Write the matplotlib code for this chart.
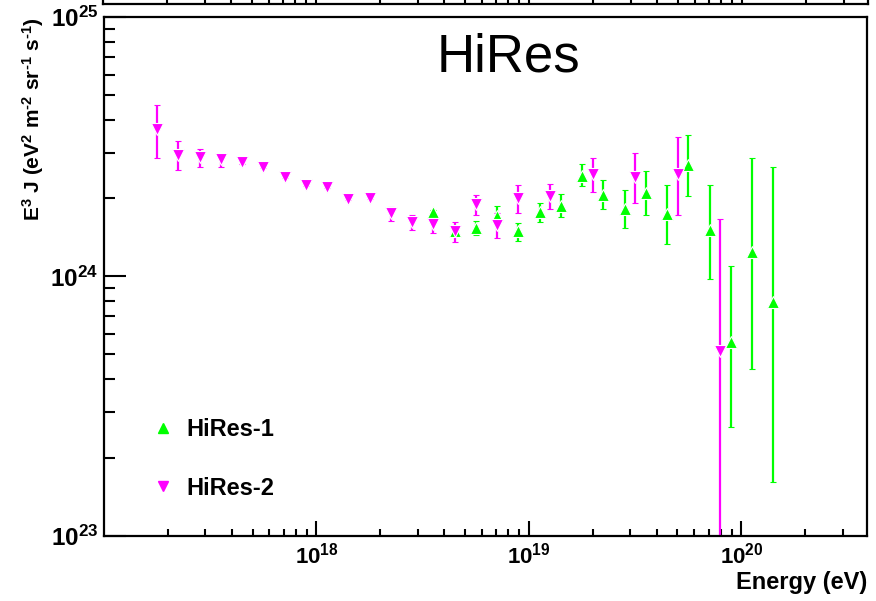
import matplotlib.pyplot as plt
from matplotlib.lines import Line2D
import numpy as np

plt.rcParams['font.family'] = 'Liberation Sans'
plt.rcParams['mathtext.fontset'] = 'custom'
plt.rcParams['mathtext.rm'] = 'Liberation Sans:bold'
plt.rcParams['mathtext.it'] = 'Liberation Sans:bold'
plt.rcParams['mathtext.bf'] = 'Liberation Sans:bold'

# HiRes-1 monocular spectrum: log10(E/eV), E^3 J in units of 1e24 eV^2 m^-2 sr^-1 s^-1
hires1_logE = [18.55, 18.65, 18.75, 18.85, 18.95, 19.05, 19.15, 19.25, 19.35,
               19.45, 19.55, 19.65, 19.75, 19.85, 19.95, 20.05, 20.15]
hires1_flux = [1.77, 1.49, 1.53, 1.71, 1.49, 1.77, 1.87, 2.44, 2.06,
               1.81, 2.10, 1.74, 2.69, 1.51, 0.560, 1.24, 0.798]
hires1_lo = [1.74, 1.43, 1.44, 1.60, 1.37, 1.62, 1.70, 2.22, 1.81,
             1.54, 1.73, 1.33, 2.04, 0.98, 0.263, 0.439, 0.1605]
hires1_hi = [1.80, 1.55, 1.63, 1.86, 1.61, 1.92, 2.07, 2.71, 2.35,
             2.15, 2.55, 2.25, 3.51, 2.24, 1.10, 2.87, 2.63]

# HiRes-2 monocular spectrum
hires2_logE = [17.25, 17.35, 17.45, 17.55, 17.65, 17.75, 17.85, 17.95, 18.05,
               18.15, 18.25, 18.35, 18.45, 18.55, 18.65, 18.75, 18.85, 18.95,
               19.1, 19.3, 19.5, 19.7, 19.9]
hires2_flux = [3.70, 2.94, 2.89, 2.83, 2.75, 2.65, 2.41, 2.24, 2.21,
               1.99, 2.01, 1.75, 1.62, 1.59, 1.50, 1.90, 1.58, 2.00,
               2.04, 2.48, 2.42, 2.49, 0.516]
hires2_lo = [2.86, 2.57, 2.65, 2.64, 2.72, 2.62, 2.39, 2.22, 2.19,
             1.97, 1.99, 1.64, 1.51, 1.47, 1.36, 1.72, 1.40, 1.75,
             1.81, 2.12, 1.92, 1.72, 0.09]
hires2_hi = [4.59, 3.32, 3.10, 2.94, 2.78, 2.68, 2.43, 2.26, 2.23,
             2.01, 2.03, 1.85, 1.72, 1.70, 1.62, 2.06, 1.76, 2.25,
             2.27, 2.85, 3.00, 3.45, 1.67]

GREEN = '#00ff00'
MAGENTA = '#ff00ff'
XMIN, XMAX = 1e17, 3.9e20

W, H = 876, 601
fig = plt.figure(figsize=(W / 100, H / 100), dpi=100, facecolor='white')


def style_xaxis(ax):
    ax.set_xscale('log')
    ax.set_xlim(XMIN, XMAX)
    ax.set_xticks([1e18, 1e19, 1e20])
    ax.set_xticklabels([r'$10^{18}$', r'$10^{19}$', r'$10^{20}$'])
    ax.xaxis.set_minor_locator(plt.LogLocator(base=10, subs=np.arange(2, 10)))
    ax.xaxis.set_minor_formatter(plt.NullFormatter())
    ax.tick_params(axis='x', which='both', direction='in', top=False, width=1.5,
                   labelsize=16)
    ax.tick_params(axis='x', which='major', length=11)
    ax.tick_params(axis='x', which='minor', length=5)
    for sp in ax.spines.values():
        sp.set_linewidth(1.6)


# strip of the panel above (only its bottom edge is in view)
ax_up = fig.add_axes([103 / W, 1 - 4 / H, 765 / W, 0.3], zorder=1)
style_xaxis(ax_up)
ax_up.tick_params(axis='x', labelbottom=False)
ax_up.set_yticks([])

ax = fig.add_axes([104 / W, 1 - 535.6 / H, 763 / W, 518.6 / H], zorder=2)
ax.set_facecolor('white')
style_xaxis(ax)
ax.tick_params(axis='x', pad=5)
ax.set_yscale('log')
ax.set_ylim(1e23, 1e25)
ax.set_yticks([1e23, 1e24, 1e25])
ax.set_yticklabels([r'$10^{23}$', r'$10^{24}$', r'$10^{25}$'])
ax.yaxis.set_minor_locator(plt.LogLocator(base=10, subs=np.arange(2, 10)))
ax.yaxis.set_minor_formatter(plt.NullFormatter())
ax.tick_params(axis='y', which='both', direction='in', right=False, width=1.5,
               labelsize=17.5, pad=4)
ax.tick_params(axis='y', which='major', length=16)
ax.tick_params(axis='y', which='minor', length=8)


def draw_series(logE, flux, lo, hi, color, marker):
    e = 10 ** np.array(logE)
    f = np.array(flux)
    yerr = [(f - np.array(lo)) * 1e24, (np.array(hi) - f) * 1e24]
    ax.errorbar(e, f * 1e24, yerr=yerr, fmt=marker, color=color, ecolor=color,
                markersize=8.5, mec='white', mew=0.8, elinewidth=1.6,
                capsize=2.5, capthick=2.2)


draw_series(hires1_logE, hires1_flux, hires1_lo, hires1_hi, GREEN, '^')
draw_series(hires2_logE, hires2_flux, hires2_lo, hires2_hi, MAGENTA, 'v')

handles = [Line2D([], [], marker='^', color=GREEN, ls='none', markersize=6.5),
           Line2D([], [], marker='v', color=MAGENTA, ls='none', markersize=6.5)]
ax.legend(handles, ['HiRes-1', 'HiRes-2'], loc='upper left',
          bbox_to_anchor=(0.046, 0.249), frameon=False, handlelength=1.0,
          handletextpad=0.5, labelspacing=1.5, borderpad=0,
          prop={'size': 17, 'weight': 'bold'})

fig.text(508 / W, 1 - 57 / H, 'HiRes', fontsize=38, ha='center', va='center')

ax.set_ylabel('E$^{3}$ J (eV$^{2}$ m$^{\u20102}$ sr$^{\u20101}$ s$^{\u20101}$)',
              fontsize=15, fontweight='bold', loc='top', labelpad=3)
ax.set_xlabel('Energy (eV)', fontsize=17, fontweight='bold', loc='right',
              labelpad=2)

fig.savefig('out.png', dpi=100, facecolor='white')
